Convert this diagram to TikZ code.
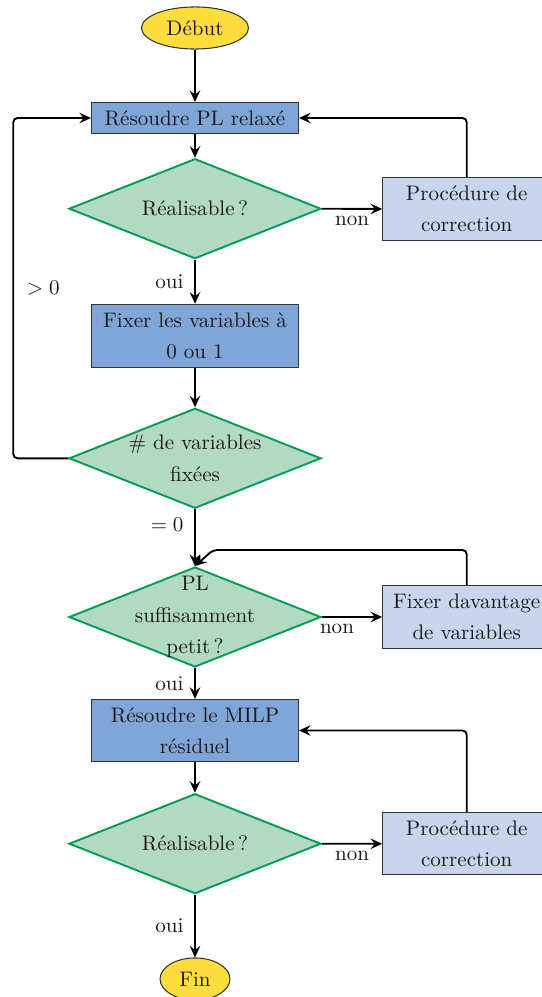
\documentclass[tikz,border=0pt]{standalone}
\usetikzlibrary{shapes.geometric,arrows.meta,calc}
\definecolor{startc}{HTML}{FFDD3C}
\definecolor{procc}{HTML}{7FA6D7}
\definecolor{corrc}{HTML}{C8D5EC}
\definecolor{decc}{HTML}{B2D9C1}
\definecolor{decb}{HTML}{009B55}
\begin{document}
\begin{tikzpicture}[x=0.475pt,y=-0.475pt,
  base/.style={font=\fontsize{10}{14.6}\selectfont, align=center, inner sep=0pt, text=black!90},
  term/.style={base, ellipse, draw=black!80, line width=0.5pt, fill=startc},
  proc/.style={base, rectangle, draw=black!80, line width=0.5pt, fill=procc, minimum width=98.3pt},
  corr/.style={base, rectangle, draw=black!80, line width=0.5pt, fill=corrc, minimum width=79.8pt, minimum height=29.6pt},
  dec/.style={diamond, draw=decb, line width=0.9pt, fill=decc, minimum width=119.7pt, minimum height=47.5pt, inner sep=0pt},
  dtext/.style={base, font=\fontsize{10}{15}\selectfont},
  arr/.style={-{Stealth[length=5.5pt,width=5pt,inset=2pt]}, line width=0.9pt, rounded corners=2pt},
  lab/.style={font=\fontsize{10}{12}\selectfont, inner sep=3pt, text=black!90}]
\useasboundingbox (0,0) rectangle (542,997);
\node[term, minimum width=50.8pt, minimum height=20pt] (debut) at (195,28) {Début};
\node[proc, minimum height=14.7pt] (r1) at (195,118) {Résoudre PL relaxé};
\node[dec] (d1) at (195,208.7) {};
\node[dtext] (t1) at (d1) {Réalisable\,?};
\node[corr] (pc1) at (466.7,209) {Procédure de\\correction};
\node[proc, minimum height=29.9pt] (f1) at (195,335.7) {Fixer les variables à\\0 ou 1};
\node[dec] (d2) at (195,458.3) {};
\node[dtext] (t2) at (d2) {\# de variables\\fixées};
\node[dec] (d3) at (195,617) {};
\node[dtext] (t3) at (d3) {PL\\suffisamment\\petit\,?};
\node[corr] (fd) at (466.7,617) {Fixer davantage\\de variables};
\node[proc, minimum height=29.5pt] (r2) at (195,730.5) {Résoudre le MILP\\résiduel};
\node[dec] (d4) at (195,843.7) {};
\node[dtext] (t4) at (d4) {Réalisable\,?};
\node[corr] (pc2) at (466.7,843.8) {Procédure de\\correction};
\node[term, minimum width=33.2pt, minimum height=20pt] (fin) at (195,979) {Fin};

\draw[arr] (debut) -- (r1);
\draw[arr] (r1) -- (d1);
\draw[arr] (d1.east) -- node[lab, below] {non} (pc1.west);
\draw[arr] (pc1.north) |- (r1.east);
\draw[arr] (d1.south) -- node[lab, left=2pt] {oui} (f1.north);
\draw[arr] (f1) -- (d2);
\coordinate (lp) at (13.3,118);
\draw[arr] (d2.west) -| node[lab, right=3pt, pos=0.75] {$>0$} (lp) -- (r1.west);
\draw[arr] (d2.south) -- node[lab, left=2pt, pos=0.27] {$=0$} (d3.north);
\draw[arr] (d3.east) -- node[lab, below, pos=0.25] {non} (fd.west);
\coordinate (jn) at (213,550);
\draw[arr] (fd.north) |- (jn) -- (d3.north);
\draw[arr] (d3.south) -- node[lab, left=2pt] {oui} (r2.north);
\draw[arr] (r2) -- (d4);
\draw[arr] (d4.east) -- node[lab, below] {non} (pc2.west);
\draw[arr] (pc2.north) |- (r2.east);
\draw[arr] (d4.south) -- node[lab, left=2pt] {oui} (fin.north);
\end{tikzpicture}
\end{document}
